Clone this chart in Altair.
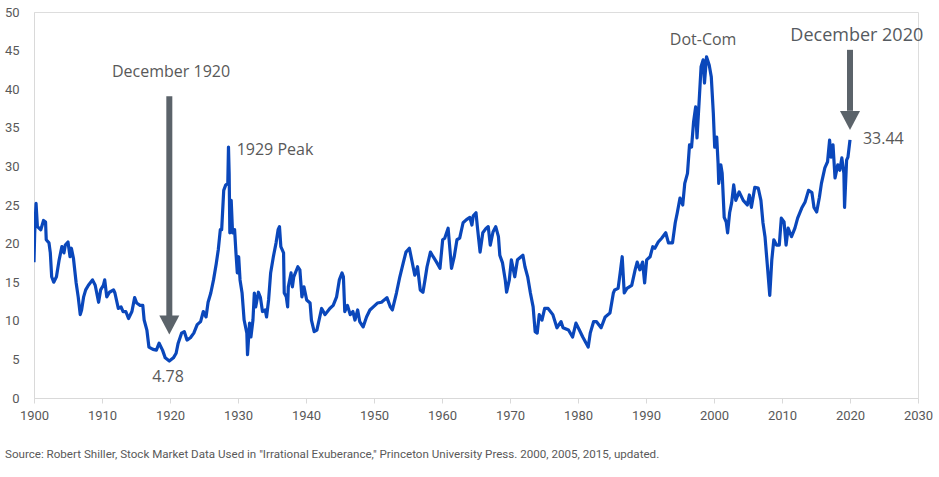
import altair as alt
import pandas as pd

# Shiller cyclically adjusted P/E (CAPE), read as (year, ratio) pairs
years = [
    1900.0, 1900.1, 1900.3, 1900.5, 1901.0, 1901.4, 1901.7, 1901.8, 1902.2, 1902.4,
    1902.6, 1902.9, 1903.3, 1903.7, 1904.1, 1904.4, 1904.6, 1905.0, 1905.3, 1905.5,
    1905.8, 1906.2, 1906.5, 1906.8, 1907.0, 1907.3, 1907.6, 1908.0, 1908.6, 1909.0,
    1909.5, 1909.8, 1910.2, 1910.4, 1910.7, 1911.1, 1911.7, 1911.9, 1912.4, 1912.8,
    1913.1, 1913.5, 1913.9, 1914.4, 1914.8, 1915.1, 1915.6, 1916.0, 1916.2, 1916.6,
    1916.9, 1917.5, 1918.0, 1918.4, 1918.9, 1919.3, 1919.9, 1920.5, 1920.9, 1921.2,
    1921.7, 1922.1, 1922.5, 1923.0, 1923.5, 1924.0, 1924.5, 1924.9, 1925.3, 1925.6,
    1926.0, 1926.4, 1926.8, 1927.1, 1927.4, 1927.6, 1927.9, 1928.2, 1928.5, 1928.6,
    1928.7, 1928.8, 1929.0, 1929.2, 1929.5, 1929.7, 1929.9, 1930.1, 1930.3, 1930.6,
    1930.9, 1931.3, 1931.4, 1931.7, 1931.9, 1932.2, 1932.4, 1932.6, 1933.0, 1933.3,
    1933.6, 1934.0, 1934.2, 1934.5, 1934.8, 1935.2, 1935.6, 1935.9, 1936.1, 1936.3,
    1936.7, 1936.8, 1937.1, 1937.3, 1937.4, 1937.8, 1938.0, 1938.2, 1938.8, 1939.1,
    1939.4, 1939.7, 1940.1, 1940.6, 1940.8, 1941.2, 1941.6, 1942.3, 1942.8, 1943.5,
    1944.0, 1944.5, 1944.9, 1945.3, 1945.5, 1945.7, 1946.1, 1946.5, 1946.9, 1947.2,
    1947.6, 1947.9, 1948.4, 1948.9, 1949.4, 1949.9, 1950.5, 1951.1, 1951.9, 1952.4,
    1952.7, 1953.3, 1953.8, 1954.3, 1954.7, 1955.2, 1955.5, 1956.0, 1956.4, 1956.8,
    1957.2, 1957.5, 1957.8, 1958.3, 1958.7, 1959.2, 1959.7, 1960.1, 1960.4, 1960.9,
    1961.4, 1961.8, 1962.2, 1962.6, 1963.1, 1963.6, 1964.1, 1964.4, 1964.6, 1965.0,
    1965.2, 1965.6, 1966.0, 1966.5, 1966.8, 1967.1, 1967.5, 1967.9, 1968.3, 1968.5,
    1968.9, 1969.3, 1969.5, 1969.9, 1970.2, 1970.7, 1971.1, 1971.9, 1972.2, 1972.6,
    1973.0, 1973.4, 1973.7, 1974.0, 1974.3, 1974.7, 1975.1, 1975.6, 1976.3, 1976.9,
    1977.5, 1977.8, 1978.6, 1979.2, 1979.7, 1980.2, 1980.7, 1981.2, 1981.5, 1981.8,
    1982.3, 1982.7, 1983.4, 1984.0, 1984.7, 1985.2, 1985.4, 1985.9, 1986.2, 1986.5,
    1986.8, 1987.2, 1987.9, 1988.4, 1988.7, 1989.1, 1989.5, 1989.8, 1990.1, 1990.6,
    1991.0, 1991.3, 1991.8, 1992.3, 1992.9, 1993.3, 1993.9, 1994.3, 1994.6, 1995.0,
    1995.4, 1995.7, 1996.1, 1996.4, 1996.7, 1997.0, 1997.3, 1997.5, 1997.8, 1998.1,
    1998.4, 1998.6, 1998.9, 1999.3, 1999.6, 1999.9, 2000.1, 2000.4, 2000.6, 2000.7,
    2001.0, 2001.2, 2001.5, 2001.8, 2002.0, 2002.3, 2002.6, 2002.9, 2003.2, 2003.7,
    2004.3, 2004.9, 2005.2, 2005.5, 2006.0, 2006.5, 2006.9, 2007.2, 2007.5, 2007.9,
    2008.2, 2008.5, 2008.8, 2009.2, 2009.6, 2009.9, 2010.3, 2010.6, 2010.9, 2011.4,
    2011.9, 2012.3, 2012.9, 2013.4, 2013.9, 2014.4, 2014.7, 2015.1, 2015.5, 2015.8,
    2016.3, 2016.7, 2017.0, 2017.2, 2017.5, 2017.8, 2018.2, 2018.5, 2018.8, 2019.1,
    2019.2, 2019.5, 2019.7, 2020.0,
]
cape = [
    17.6, 21.3, 25.2, 22.2, 21.8, 23.0, 22.8, 20.5, 20.1, 18.8,
    15.7, 15.0, 15.7, 17.9, 19.6, 18.8, 19.8, 20.2, 18.3, 19.4,
    18.1, 14.9, 13.1, 10.8, 11.4, 13.1, 14.0, 14.6, 15.3, 14.6,
    12.4, 14.0, 14.6, 15.3, 13.1, 13.7, 14.0, 13.6, 11.6, 11.8,
    11.2, 11.2, 10.3, 11.2, 13.0, 12.3, 12.0, 12.0, 10.1, 8.8,
    6.6, 6.3, 6.2, 7.1, 6.2, 5.2, 4.78, 5.2, 5.8, 7.1,
    8.4, 8.6, 7.5, 7.8, 8.4, 9.5, 9.9, 11.2, 10.5, 12.4,
    13.6, 15.3, 17.4, 19.2, 21.8, 21.8, 26.9, 27.6, 27.8, 32.5,
    29.1, 21.4, 25.6, 21.4, 21.8, 18.8, 16.2, 18.3, 15.3, 13.6,
    10.1, 8.4, 5.6, 9.7, 7.9, 10.1, 13.6, 11.8, 13.7, 13.0,
    11.2, 11.4, 10.5, 12.7, 16.2, 18.3, 20.1, 21.8, 22.2, 19.6,
    18.8, 13.6, 13.1, 11.8, 14.4, 16.2, 14.4, 15.7, 17.0, 16.6,
    13.1, 14.4, 12.7, 12.3, 10.1, 8.6, 8.8, 11.6, 10.8, 11.6,
    12.0, 13.1, 15.3, 16.2, 15.7, 11.2, 12.0, 10.8, 11.2, 10.1,
    11.4, 9.9, 9.2, 10.5, 11.4, 11.8, 12.3, 12.4, 13.0, 11.8,
    11.4, 13.6, 15.7, 17.5, 18.9, 19.4, 18.1, 15.9, 17.0, 14.0,
    13.7, 15.3, 17.0, 18.9, 18.3, 17.6, 16.8, 20.5, 20.7, 22.0,
    16.8, 18.3, 20.5, 20.7, 22.7, 23.1, 23.4, 22.4, 23.6, 24.0,
    22.2, 18.9, 21.4, 22.0, 22.2, 19.8, 21.5, 22.2, 20.9, 18.5,
    17.5, 15.3, 13.7, 15.3, 17.9, 15.7, 17.9, 18.5, 17.0, 15.7,
    13.6, 11.8, 8.6, 8.4, 10.8, 10.1, 11.6, 11.6, 10.8, 9.1,
    9.9, 9.1, 8.8, 7.9, 9.7, 8.8, 7.9, 7.1, 6.6, 8.4,
    9.9, 9.9, 9.1, 10.5, 11.0, 13.6, 14.0, 14.2, 16.2, 18.3,
    13.6, 14.2, 14.6, 16.6, 17.6, 16.6, 17.6, 14.9, 17.9, 18.3,
    19.6, 19.4, 20.2, 20.7, 21.4, 20.1, 20.1, 22.7, 24.0, 25.9,
    25.0, 27.8, 29.1, 32.8, 32.5, 35.8, 37.7, 33.7, 38.2, 42.9,
    43.8, 40.8, 44.2, 43.1, 41.6, 36.9, 32.5, 33.8, 30.4, 27.8,
    30.2, 29.1, 23.4, 22.8, 21.4, 24.0, 25.3, 27.6, 25.6, 26.7,
    25.6, 25.0, 26.3, 24.7, 27.3, 27.2, 25.6, 22.7, 20.9, 16.6,
    13.3, 17.9, 20.5, 19.8, 19.8, 23.3, 22.8, 19.8, 22.0, 20.9,
    22.0, 23.3, 24.6, 25.4, 26.9, 26.6, 24.7, 24.1, 26.0, 27.8,
    29.8, 30.6, 33.4, 31.2, 32.8, 28.5, 30.2, 29.5, 31.1, 29.1,
    24.7, 30.8, 31.2, 33.44,
]

x_ticks = list(range(1900, 2031, 10))
y_ticks = list(range(0, 51, 5))
source_note = ('Source: Robert Shiller, Stock Market Data Used in "Irrational Exuberance," '
               'Princeton University Press. 2000, 2005, 2015, updated.')

df = pd.DataFrame({"year": years, "cape": cape})

low_idx = df["cape"].idxmin()
low_year, low_val = df.loc[low_idx, "year"], df.loc[low_idx, "cape"]
end_year, end_val = df["year"].iloc[-1], df["cape"].iloc[-1]
dotcom_row = df.loc[df["cape"].idxmax()]

GRAY_TXT = "#595959"
ARROW = "#5b636a"
AXIS_GRAY = "#d9d9d9"
LINE_BLUE = "#0a47bb"
ANNOT_FONT = "Open Sans"
TICK_FONT = "Roboto"

x_scale = alt.Scale(domain=[1900, 2030], nice=False, zero=False)
y_scale = alt.Scale(domain=[0, 50], nice=False)

# tickCount is kept above the number of explicit values so none are thinned out
x_axis = alt.Axis(values=x_ticks, tickCount=len(x_ticks) + 5, format="d", grid=False,
                  domainColor=AXIS_GRAY, tickColor=AXIS_GRAY, tickSize=5,
                  labelPadding=6, labelFontSize=13, labelColor=GRAY_TXT,
                  labelFont=TICK_FONT, labelFlush=False, labelOverlap=False)
y_axis = alt.Axis(values=y_ticks, tickCount=len(y_ticks) + 5, grid=False, ticks=False,
                  domainColor=AXIS_GRAY, labelPadding=15,
                  labelFontSize=13, labelColor=GRAY_TXT,
                  labelFont=TICK_FONT, labelFlush=False, labelOverlap=False)


def X(field):
    return alt.X(field, scale=x_scale, axis=x_axis, title=None)


def Y(field):
    return alt.Y(field, scale=y_scale, axis=y_axis, title=None)


line = alt.Chart(df).mark_line(
    color=LINE_BLUE, strokeWidth=3.2, strokeJoin="round", clip=True
).encode(x=X("year:Q"), y=Y("cape:Q"))

# Arrows: a thick shaft plus a triangular head
arrows = pd.DataFrame({
    "x": [low_year, end_year],
    "top": [39.1, 45.1],
    "bottom": [10.6, 37.2],
    "head": [9.45, 35.95],
})
shafts = alt.Chart(arrows).mark_rule(color=ARROW, strokeWidth=6).encode(
    x=X("x:Q"), y=Y("top:Q"), y2="bottom:Q"
)
heads = alt.Chart(arrows).mark_point(
    shape="M-1,-0.95L1,-0.95L0,0.95Z", filled=True, opacity=1,
    color=ARROW, size=400, strokeWidth=0
).encode(x=X("x:Q"), y=Y("head:Q"))


def label(x, y, text, size=16, align="center", color=GRAY_TXT):
    d = pd.DataFrame({"x": [x], "y": [y], "t": [text]})
    return alt.Chart(d).mark_text(
        font=ANNOT_FONT, fontSize=size, align=align, baseline="middle", color=color
    ).encode(x=X("x:Q"), y=Y("y:Q"), text="t:N")


labels = [
    label(1920.15, 42.2, "December 1920"),
    label(low_year - 0.2, 2.75, f"{low_val:.2f}"),
    label(1929.8, 32.1, "1929 Peak", align="left"),
    label(dotcom_row["year"] - 0.5, 46.4, "Dot-Com"),
    label(2021.0, 46.9, "December 2020", size=18, color="#555a60"),
    label(2021.9, 33.6, f"{end_val:.2f}", align="left"),
]

note = alt.Chart(pd.DataFrame({"t": [source_note]})).mark_text(
    font=TICK_FONT, fontSize=11.6, align="left", baseline="middle", color=GRAY_TXT
).encode(x=alt.value(-29), y=alt.value(443), text="t:N")

chart = alt.layer(line, shafts, heads, *labels, note).properties(
    width=884, height=386,
    autosize=alt.AutoSizeParams(type="none"),
    padding={"left": 34, "top": 12, "right": 21, "bottom": 79},
).configure_view(stroke=None).configure(background="white")

chart.save("out.html", embed_options={"renderer": "svg", "actions": False})
